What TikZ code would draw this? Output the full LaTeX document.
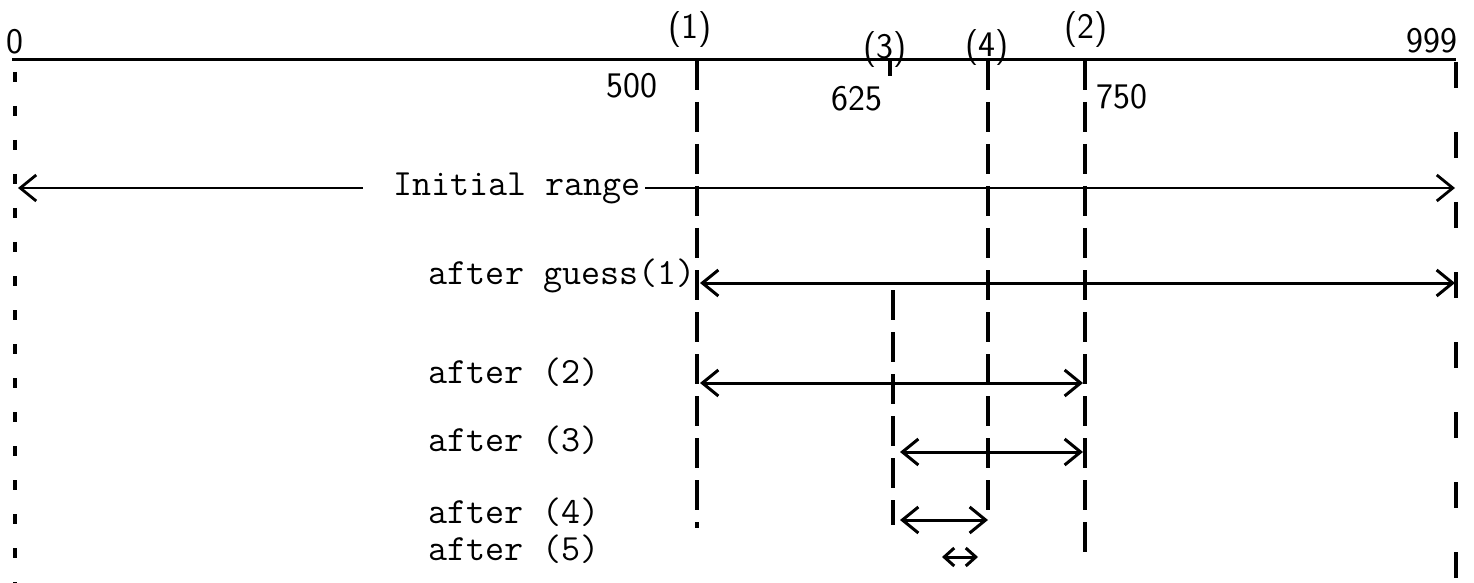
\documentclass[tikz,border=0pt]{standalone}
\usepackage{tikz}
\usetikzlibrary{positioning, arrows.meta}

\begin{document}
\begin{tikzpicture}[x=0.5pt, y=-0.5pt,
  every node/.style={inner sep=0pt},
  axisline/.style={line width=1.5pt},
  handlabel/.style={font=\sffamily\fontsize{18}{20}\selectfont},
  steptext/.style={font=\ttfamily\fontsize{18.5}{21}\selectfont, anchor=west},
  guideline/.style={line width=1.6pt, dash pattern=on 15pt off 6pt},
  sparseguide/.style={line width=1.6pt, dash pattern=on 5pt off 12pt},
  wideguide/.style={line width=1.6pt, dash pattern=on 13pt off 22pt},
  spanarrow/.style={line width=1.5pt, {Straight Barb[length=8pt,width=13pt,line width=1.5pt]}-{Straight Barb[length=8pt,width=13pt,line width=1.5pt]}},
  leftspan/.style={line width=1.4pt, {Straight Barb[length=8pt,width=13pt,line width=1.4pt]}-},
  rightspan/.style={line width=1.4pt, -{Straight Barb[length=8pt,width=13pt,line width=1.4pt]}}
]
\useasboundingbox (0,0) rectangle (1474,583);

% Axis
\coordinate (a0) at (12,60);
\coordinate (a999) at (1456,60);
\draw[axisline] (a0) -- (a999);

\node[handlabel] (n0) at (15,42) {0};
\node[handlabel] (n999) at (1432,41) {999};
\node[handlabel] (g1) at (690,30) {(1)};
\node[handlabel] (g2) at (1086,30) {(2)};
\node[handlabel] (g3) at (885,50) {(3)};
\node[handlabel] (g4) at (987,48) {(4)};
\node[handlabel] (n500) at (632,86) {500};
\node[handlabel] (n625) at (857,99) {625};
\node[handlabel] (n750) at (1122,97) {750};

% Guide lines
\draw[sparseguide] (15,72) coordinate (v0t) -- (15,583) coordinate (v0b);
\draw[guideline] (697,60) coordinate (v1t) -- (697,528) coordinate (v1b);
\draw[line width=1.6pt] (890,60) coordinate (v3t) -- (890,76) coordinate (v3m);
\draw[guideline] (893,290) coordinate (v3a) -- (893,525) coordinate (v3b);
\draw[guideline] (988,60) coordinate (v4t) -- (988,510) coordinate (v4b);
\draw[guideline] (1085,60) coordinate (v2t) -- (1085,562) coordinate (v2b);
\draw[wideguide] (1456,62) coordinate (v9t) -- (1456,583) coordinate (v9b);

% Ranges
\node[steptext, anchor=center] (init) at (517,188) {Initial range};
\coordinate (i0) at (18,188);
\coordinate (i1) at (1455,188);
\draw[leftspan] (i0) -- ([xshift=-15pt]init.west);
\draw[rightspan] ([xshift=2pt]init.east) -- (i1);

\node[steptext, anchor=east] (after1) at (696,276) {after guess(1)};
\coordinate (r1a) at (700,283);
\coordinate (r1b) at (1455,283);
\draw[spanarrow] (r1a) -- (r1b);

\node[steptext] (after2) at (428,372) {after (2)};
\coordinate (r2a) at (700,383);
\coordinate (r2b) at (1083,383);
\draw[spanarrow] (r2a) -- (r2b);

\node[steptext] (after3) at (428,440) {after (3)};
\coordinate (r3a) at (900,452);
\coordinate (r3b) at (1083,452);
\draw[spanarrow] (r3a) -- (r3b);

\node[steptext] (after4) at (428,512) {after (4)};
\coordinate (r4a) at (900,520);
\coordinate (r4b) at (988,520);
\draw[spanarrow] (r4a) -- (r4b);

\node[steptext] (after5) at (428,549) {after (5)};
\coordinate (r5a) at (942,557);
\coordinate (r5b) at (978,557);
\draw[line width=1.5pt, {Straight Barb[length=5pt,width=9pt,line width=1.5pt]}-{Straight Barb[length=5pt,width=9pt,line width=1.5pt]}] (r5a) -- (r5b);
\end{tikzpicture}
\end{document}
